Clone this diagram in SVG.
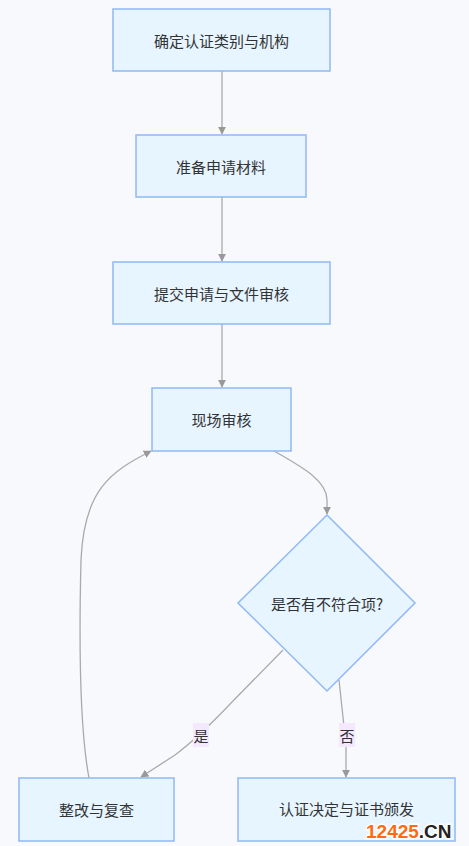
<svg xmlns="http://www.w3.org/2000/svg" width="469" height="846" viewBox="0 0 469 846">
<style>
.node rect,.node polygon{fill:#e6f5ff;stroke:#8fb8f5;stroke-width:1.5}
.node text{font-family:"Noto Sans CJK SC","Noto Sans",sans-serif;font-size:15px;fill:#333;text-anchor:middle;dominant-baseline:central}
.edges path{fill:none;stroke:#aaaaaa;stroke-width:1.3}
.lbl rect{fill:#f4e9fc}
.lbl text{font-family:"Noto Sans CJK SC","Noto Sans",sans-serif;font-size:15px;fill:#333;text-anchor:middle;dominant-baseline:central}
.wm{font-family:"Liberation Sans",Arial,sans-serif;font-weight:bold;font-size:19px;stroke:#fff;stroke-width:3;paint-order:stroke}
</style>
<defs>
<marker id="arr" viewBox="0 0 10 10" refX="9" refY="5" markerWidth="8" markerHeight="8" orient="auto" markerUnits="userSpaceOnUse">
<path d="M0,0 L10,5 L0,10 z" fill="#999"/>
</marker>
</defs>
<rect width="469" height="846" fill="#f8f9fc"/>
<g class="edges">
<path d="M222,71 V134" marker-end="url(#arr)"/>
<path d="M222,197 V261" marker-end="url(#arr)"/>
<path d="M222,324 V387" marker-end="url(#arr)"/>
<path d="M274,451 C300,466 327,480 327,500 V514" marker-end="url(#arr)"/>
<path d="M283,650 L232,702 C215,720 195,740 175,755 L141,777" marker-end="url(#arr)"/>
<path d="M339,680 L346,745 V777" marker-end="url(#arr)"/>
<path d="M89,778 C80,730 79,640 81,560 C84,490 110,472 151,451" marker-end="url(#arr)"/>
</g>
<g class="lbl" id="label-yes"><rect x="193" y="723" width="16" height="24"/><text x="201" y="735">是</text></g>
<g class="lbl" id="label-no"><rect x="339" y="723" width="16" height="24"/><text x="347" y="735">否</text></g>
<g class="node" id="n1"><rect x="113" y="9" width="217" height="62"/><text x="221.5" y="40">确定认证类别与机构</text></g>
<g class="node" id="n2"><rect x="136" y="135" width="170" height="62"/><text x="221" y="166">准备申请材料</text></g>
<g class="node" id="n3"><rect x="113" y="262" width="217" height="62"/><text x="221.5" y="293">提交申请与文件审核</text></g>
<g class="node" id="n4"><rect x="152" y="388" width="139" height="63"/><text x="221.5" y="419">现场审核</text></g>
<g class="node" id="n5"><polygon points="327,515 415,603 327,691 238,603"/><text x="327" y="603">是否有不符合项?</text></g>
<g class="node" id="n6"><rect x="19" y="778" width="155" height="63"/><text x="96.5" y="809">整改与复查</text></g>
<g class="node" id="n7"><rect x="238" y="778" width="217" height="63"/><text x="346.5" y="808">认证决定与证书颁发</text></g>
<text class="wm" x="366" y="838"><tspan fill="#ff6a13">12425</tspan><tspan fill="#222">.CN</tspan></text>
</svg>
